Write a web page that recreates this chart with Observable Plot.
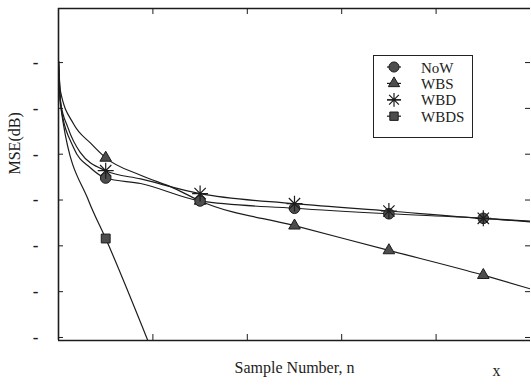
<!DOCTYPE html>
<html><head><meta charset="utf-8">
<script src="https://cdn.jsdelivr.net/npm/d3@7"></script>
<script src="https://cdn.jsdelivr.net/npm/@observablehq/plot@0.6"></script>
<style>
body{margin:0;background:#fff;}
#wrap{position:relative;width:531px;height:386px;overflow:hidden;font-family:"Liberation Serif","Liberation Sans",Arial,sans-serif;}
#legend{position:absolute;left:373px;top:55px;width:98px;height:81px;border:1px solid #222;background:#fff;}
</style></head><body><div id="wrap"></div>
<script>
// ---- data ----
const seriesNames = ["NoW", "WBS", "WBD", "WBDS"];
const nNoW   = [0, 0.02, 0.16, 0.34, 0.5, 0.87, 1.5, 2.5, 3.5, 4.5, 5];
const mseNoW = [-4.8, -9.5, -14.3, -16.5, -17.6, -18.2, -20.1, -20.9, -21.5, -22.0, -22.4];
const nWBS   = [0, 0.02, 0.16, 0.34, 0.5, 0.87, 1.22, 1.5, 2.5, 3.5, 4.5, 5];
const mseWBS = [-4.8, -8.1, -11.7, -13.8, -15.4, -17.3, -18.7, -20.1, -22.8, -25.5, -28.2, -29.7];
const nWBD   = [0, 0.02, 0.1, 0.23, 0.5, 0.87, 1.5, 2.5, 3.5, 4.5, 5];
const mseWBD = [-4.8, -9.2, -12.1, -14.8, -16.8, -17.7, -19.3, -20.4, -21.2, -22.0, -22.3];
const nWBDS   = [0, 0.02, 0.05, 0.32, 0.5, 0.945];
const mseWBDS = [-4.8, -9.0, -11.6, -20.1, -24.2, -35.3];
const markerN = [0.5, 1.5, 2.5, 3.5, 4.5];
const yTicks = [-35, -30, -25, -20, -15, -10, -5];
const xTicks = [1, 2, 3, 4];
const xLabel = "Sample Number, n";
const yLabel = "MSE(dB)";
const cornerLabel = "x";

const FONT = "'Liberation Serif','Liberation Sans',Arial,sans-serif";
const star8 = {draw(ctx, size){const r=Math.sqrt(size/Math.PI);for(let i=0;i<4;i++){const a=i*Math.PI/4;ctx.moveTo(r*Math.cos(a),r*Math.sin(a));ctx.lineTo(-r*Math.cos(a),-r*Math.sin(a));}}};

const raw = {NoW:[nNoW,mseNoW], WBS:[nWBS,mseWBS], WBD:[nWBD,mseWBD], WBDS:[nWBDS,mseWBDS]};
const rows = seriesNames.flatMap(name => raw[name][0].map((n,i)=>({name, n, mse: raw[name][1][i]})));
const marks = name => rows.filter(d => d.name===name && markerN.includes(d.n));

const ink = "#1c1c1c";
const plot = Plot.plot({
  width:531, height:386,
  marginLeft:58, marginTop:8, marginRight:1, marginBottom:46,
  x:{domain:[0,5], axis:null},
  y:{domain:[-35.33, 0.9], axis:null},
  style:{background:"transparent", fontFamily:FONT},
  marks:[
    Plot.axisY(yTicks, {label:null, tickSize:0, tickPadding:20, tickFormat:()=>"-", fontSize:17, fontWeight:"bold", fill:ink}),
    Plot.tickY(yTicks, {y:d=>d, insetRight:467, stroke:ink}),
    Plot.tickY(yTicks, {y:d=>d, insetLeft:467, stroke:ink}),
    Plot.tickX(xTicks, {x:d=>d, insetTop:326, stroke:ink}),
    Plot.tickX(xTicks, {x:d=>d, insetBottom:326, stroke:ink}),
    Plot.ruleX([0], {stroke:ink, strokeWidth:1.6}),
    Plot.ruleY([0.9], {stroke:ink, strokeWidth:1.4}),
    Plot.ruleY([-35.33], {stroke:ink, strokeWidth:1.6}),
    Plot.line(rows, {x:"n", y:"mse", z:"name", curve:"monotone-x", stroke:ink, strokeWidth:1.2, clip:true}),
    Plot.dot(marks("WBS"), {x:"n", y:"mse", symbol:"triangle", r:4.3, fill:"#4d4d4d", stroke:ink, strokeWidth:1}),
    Plot.dot(marks("NoW"), {x:"n", y:"mse", symbol:"circle", r:5.3, fill:"#4d4d4d", stroke:ink, strokeWidth:1}),
    Plot.dot(marks("WBD"), {x:"n", y:"mse", symbol:star8, r:8, fill:"none", stroke:ink, strokeWidth:1.2}),
    Plot.dot(marks("WBDS"), {x:"n", y:"mse", symbol:"square", r:5, fill:"#4d4d4d", stroke:ink, strokeWidth:1}),
    Plot.text([xLabel], {text:d=>d, frameAnchor:"bottom", dy:32, fontSize:16, fill:ink, fontFamily:FONT}),
    Plot.text([cornerLabel], {text:d=>d, frameAnchor:"bottom-right", dx:-30, dy:35, fontSize:16, fill:ink, fontFamily:FONT}),
    Plot.text([yLabel], {text:d=>d, frameAnchor:"left", dx:-44, rotate:-90, fontSize:16, fill:ink, fontFamily:FONT})
  ]
});
const wrap = document.getElementById("wrap");
wrap.appendChild(plot);

// legend
const symbolsL = {NoW:d3.symbolCircle, WBS:d3.symbolTriangle, WBD:star8, WBDS:d3.symbolSquare};
const sizesL = {NoW:80, WBS:55, WBD:150, WBDS:70};
const leg = d3.select(wrap).append("div").attr("id","legend");
const lsvg = leg.append("svg").attr("width",98).attr("height",81).style("position","absolute").style("left","0").style("top","0");
seriesNames.forEach((name,i)=>{
  const y = 11 + i*16.4;
  const g = lsvg.append("g").attr("transform",`translate(20,${y})`);
  g.append("line").attr("x1",-7).attr("x2",7).attr("stroke",ink).attr("stroke-width",1.2);
  g.append("path").attr("d", d3.symbol(symbolsL[name], sizesL[name])())
    .attr("fill", name==="WBD" ? "none" : "#4d4d4d").attr("stroke", ink).attr("stroke-width", name==="WBD"?1.2:1);
  lsvg.append("text").attr("x",47).attr("y",y+5.5).attr("font-size",15).attr("fill",ink)
    .style("font-family",FONT).text(name);
});
</script>
</body></html>
